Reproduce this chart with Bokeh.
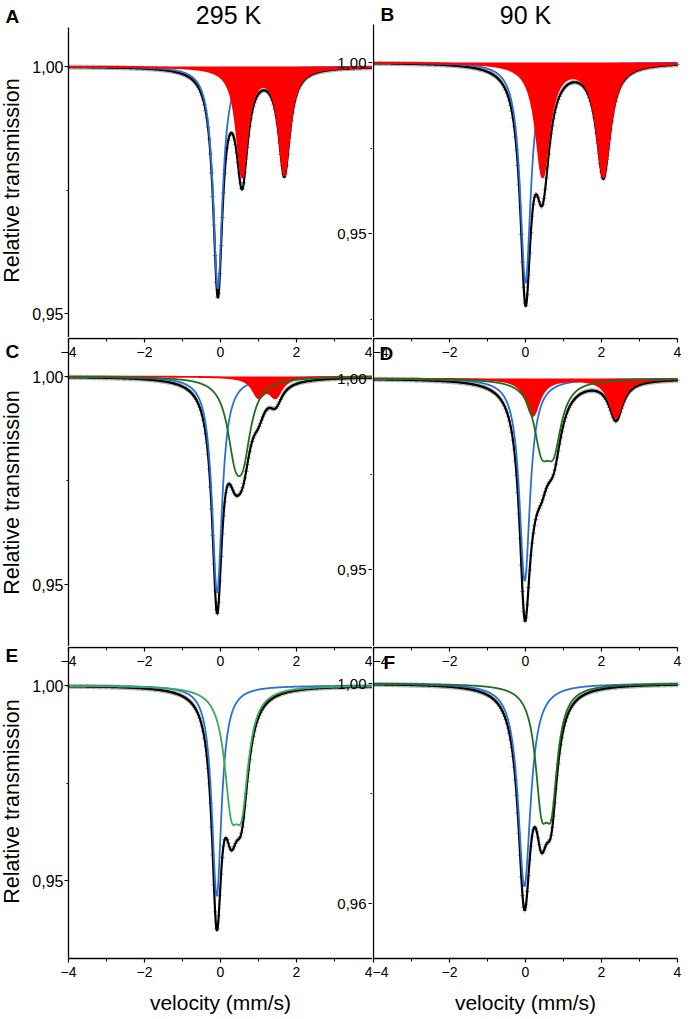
import math
import numpy as np
from bokeh.plotting import figure
from bokeh.models import Range1d, LinearAxis, FixedTicker, Label, CustomJSTickFormatter
from bokeh.layouts import column, row
from bokeh.embed import file_html
from bokeh.resources import INLINE

# ---------------- data ----------------
# every spectral component = Lorentzian lines: centre (mm/s), absorption depth, half width (mm/s)
temperatures = ["295 K", "90 K"]
panel_letters = ["A", "B", "C", "D", "E", "F"]
y_title = "Relative transmission"
x_title = "velocity (mm/s)"

A_blue_center = [-0.07]
A_blue_depth = [0.045]
A_blue_hwhm = [0.15]
A_red_center = [0.57, 1.68]
A_red_depth = [0.022, 0.0215]
A_red_hwhm = [0.18, 0.18]

B_blue_center = [0.0]
B_blue_depth = [0.0645]
B_blue_hwhm = [0.17]
B_red_center = [0.45, 2.05]
B_red_depth = [0.033, 0.033]
B_red_hwhm = [0.22, 0.22]

C_blue_center = [-0.09]
C_blue_depth = [0.052]
C_blue_hwhm = [0.16]
C_green_center = [0.38, 0.60]
C_green_depth = [0.0143, 0.0143]
C_green_hwhm = [0.25, 0.25]
C_red_center = [1.00, 1.45]
C_red_depth = [0.0045, 0.0045]
C_red_hwhm = [0.20, 0.20]

D_blue_center = [-0.02]
D_blue_depth = [0.053]
D_blue_hwhm = [0.17]
D_green_center = [0.42, 0.74]
D_green_depth = [0.0152, 0.0152]
D_green_hwhm = [0.25, 0.25]
D_red_center = [0.19, 2.38]
D_red_depth = [0.0097, 0.0102]
D_red_hwhm = [0.22, 0.22]

E_blue_center = [-0.10]
E_blue_depth = [0.054]
E_blue_hwhm = [0.155]
E_green_center = [0.28, 0.56]
E_green_depth = [0.025, 0.025]
E_green_hwhm = [0.22, 0.22]

F_blue_center = [-0.03]
F_blue_depth = [0.0369]
F_blue_hwhm = [0.20]
F_green_center = [0.42, 0.68]
F_green_depth = [0.0180, 0.0180]
F_green_hwhm = [0.20, 0.20]

x_ticks = [-4, -2, 0, 2, 4]
x_minor_ticks = [-3, -1, 1, 3]
A_y_ticks, A_y_minor = [0.95, 1.00], [0.975]
B_y_ticks, B_y_minor = [0.95, 1.00], [0.925, 0.975]
C_y_ticks, C_y_minor = [0.95, 1.00], [0.975]
D_y_ticks, D_y_minor = [0.95, 1.00], [0.975]
E_y_ticks, E_y_minor = [0.95, 1.00], [0.975]
F_y_ticks, F_y_minor = [0.96, 1.00], [0.98]

# ---------------- layout / styling ----------------
FONT = "Liberation Sans"
BLUE = "#2b6fd6"
RED = "#ff0000"
GREEN_DARK = "#1d701d"
GREEN_LIGHT = "#3aaa5c"
GRAY = "#808080"

PX_PER_V = 38.0
LEFT_COL = (0, 372)     # page x of the canvases
RIGHT_COL = (372, 690)
LEFT_V0 = 68            # page x of v = -4
RIGHT_V0 = 373
ROWS = [(0, 337), (337, 646), (646, 1017)]   # page y of the canvases
# page y of the 1.00 level and pixels per unit of transmission
PANEL_Y = {"A": (66, 4940.0), "B": (62, 3420.0), "C": (376, 4160.0),
           "D": (378, 3820.0), "E": (685, 3900.0), "F": (683, 5500.0)}
# page y of the top / bottom of the drawn y-axis line
AXIS_SPAN = {"A": (27, 337), "B": (24, 337), "C": (338, 646), "D": (338, 646),
             "E": (647, 958), "F": (647, 958)}
TEXT_DROP = 0.3   # rendered texts sit this many em below the requested baseline

v = np.linspace(-4.0, 4.0, 801)
v_channels = np.linspace(-4.0, 4.0, 256)

fmt_code = "return tick.toFixed(2).replace('.', ',');"


def x_at(col, px):
    v0 = LEFT_V0 if col == 0 else RIGHT_V0
    return -4.0 + (px - v0) / PX_PER_V


def y_at(panel, py):
    p1, scale = PANEL_Y[panel]
    return 1.0 + (p1 - py) / scale


def absorption(x, centers, depths, hwhms):
    s = np.zeros_like(x)
    for c, d, h in zip(centers, depths, hwhms):
        s = s + d / (1.0 + ((x - c) / h) ** 2)
    return s


def style_axis(ax, size):
    ax.major_label_text_font = FONT
    ax.major_label_text_font_size = size
    ax.major_label_text_color = "black"
    ax.major_tick_in = 0
    ax.minor_tick_in = 0
    ax.major_tick_out = 4
    ax.minor_tick_out = 2
    ax.axis_line_width = 1.3
    ax.major_tick_line_width = 1.2
    ax.minor_tick_line_width = 1.0
    ax.axis_line_color = "black"
    ax.major_tick_line_color = "black"
    ax.minor_tick_line_color = "black"


def make_fig(col, r, panel):
    cx0, cx1 = LEFT_COL if col == 0 else RIGHT_COL
    ry0, ry1 = ROWS[r]
    p = figure(width=cx1 - cx0, height=ry1 - ry0,
               x_range=Range1d(x_at(col, cx0), x_at(col, cx1)),
               y_range=Range1d(y_at(panel, ry1), y_at(panel, ry0)),
               x_axis_location=None, y_axis_location=None, toolbar_location=None,
               output_backend="svg", title=None,
               min_border_left=0, min_border_right=0, min_border_top=0, min_border_bottom=0)
    p.outline_line_color = None
    p.xgrid.visible = False
    p.ygrid.visible = False
    p.background_fill_color = "white"
    p.border_fill_color = "white"
    return p


def draw(p, blue, red=None, green=None, green_color=GREEN_DARK):
    comps = [blue] + [c for c in (red, green) if c is not None]
    total = 1.0 - sum(absorption(v, *c) for c in comps)
    total_ch = 1.0 - sum(absorption(v_channels, *c) for c in comps)
    p.scatter(v_channels, total_ch, marker="cross", size=5, line_color=GRAY,
              line_alpha=0.75, line_width=1)
    p.line(v, total, line_color="black", line_width=2.2)
    p.line(v, 1.0 - absorption(v, *blue), line_color=BLUE, line_width=1.8)
    if red is not None:
        rc = 1.0 - absorption(v, *red)
        p.varea(x=v, y1=rc, y2=np.ones_like(v), fill_color=RED)
        p.line(v, rc, line_color=RED, line_width=1.8)
    if green is not None:
        p.line(v, 1.0 - absorption(v, *green), line_color=green_color, line_width=1.8)


def y_axis(p, panel, ticks, minor, with_labels=True):
    top, bot = AXIS_SPAN[panel]
    if with_labels:
        ax = LinearAxis(fixed_location=-4, bounds=(y_at(panel, bot), y_at(panel, top)),
                        ticker=FixedTicker(ticks=ticks, minor_ticks=minor),
                        formatter=CustomJSTickFormatter(code=fmt_code))
        style_axis(ax, "16px")
        ax.major_label_standoff = 1
    else:
        ax = LinearAxis(fixed_location=-4, bounds=(y_at(panel, bot), y_at(panel, top)),
                        ticker=FixedTicker(ticks=[], minor_ticks=[]))
        style_axis(ax, "15px")
        ax.major_tick_out = 0
        ax.minor_tick_out = 0
    p.add_layout(ax, "left")


def neighbour_axis(p, r, panel, ticks, minor):
    # ticks and labels of the right-hand panel's y axis, on the shared border
    ry0, ry1 = ROWS[r]
    top, bot = AXIS_SPAN[panel]
    p.extra_y_ranges = {"nb": Range1d(y_at(panel, ry1), y_at(panel, ry0))}
    ax = LinearAxis(y_range_name="nb", fixed_location=4,
                    bounds=(y_at(panel, bot), y_at(panel, top)),
                    ticker=FixedTicker(ticks=ticks, minor_ticks=minor),
                    formatter=CustomJSTickFormatter(code=fmt_code))
    style_axis(ax, "15px")
    ax.axis_line_color = None
    ax.major_label_standoff = 2
    p.add_layout(ax, "left")


def x_axis(p, panel, py):
    ax = LinearAxis(fixed_location=y_at(panel, py), bounds=(-4, 4),
                    ticker=FixedTicker(ticks=x_ticks, minor_ticks=x_minor_ticks))
    style_axis(ax, "14px")
    ax.minor_tick_out = 3
    ax.major_label_standoff = 4
    p.add_layout(ax, "below")


def text(p, s, col, panel, px, py, size, bold=False, align="left", angle=0.0):
    # px, py: page position of the glyph baseline
    drop = TEXT_DROP * size
    if angle:
        px -= drop
    else:
        py -= drop
    x = x_at(col, px) if col is not None else px
    p.add_layout(Label(x=x, y=y_at(panel, py), text=s, angle=angle,
                       text_font=FONT, text_font_size=f"{size}px",
                       text_font_style="bold" if bold else "normal",
                       text_align=align, text_baseline="alphabetic",
                       text_color="black"))


pA = make_fig(0, 0, "A")
pB = make_fig(1, 0, "B")
pC = make_fig(0, 1, "C")
pD = make_fig(1, 1, "D")
pE = make_fig(0, 2, "E")
pF = make_fig(1, 2, "F")

draw(pA, (A_blue_center, A_blue_depth, A_blue_hwhm),
     red=(A_red_center, A_red_depth, A_red_hwhm))
draw(pB, (B_blue_center, B_blue_depth, B_blue_hwhm),
     red=(B_red_center, B_red_depth, B_red_hwhm))
draw(pC, (C_blue_center, C_blue_depth, C_blue_hwhm),
     red=(C_red_center, C_red_depth, C_red_hwhm),
     green=(C_green_center, C_green_depth, C_green_hwhm))
draw(pD, (D_blue_center, D_blue_depth, D_blue_hwhm),
     red=(D_red_center, D_red_depth, D_red_hwhm),
     green=(D_green_center, D_green_depth, D_green_hwhm))
draw(pE, (E_blue_center, E_blue_depth, E_blue_hwhm),
     green=(E_green_center, E_green_depth, E_green_hwhm), green_color=GREEN_LIGHT)
draw(pF, (F_blue_center, F_blue_depth, F_blue_hwhm),
     green=(F_green_center, F_green_depth, F_green_hwhm))

# y axes
y_axis(pA, "A", A_y_ticks, A_y_minor)
y_axis(pC, "C", C_y_ticks, C_y_minor)
y_axis(pE, "E", E_y_ticks, E_y_minor)
for p, name in ((pB, "B"), (pD, "D"), (pF, "F")):
    y_axis(p, name, [], [], with_labels=False)
neighbour_axis(pA, 0, "B", B_y_ticks, B_y_minor)
neighbour_axis(pC, 1, "D", D_y_ticks, D_y_minor)
neighbour_axis(pE, 2, "F", F_y_ticks, F_y_minor)

# x axes: the border under each row
x_axis(pC, "C", 338)
x_axis(pD, "D", 338)
x_axis(pE, "E", 647)
x_axis(pF, "F", 647)
x_axis(pE, "E", 958)
x_axis(pF, "F", 958)

# texts (page positions of baselines)
text(pA, panel_letters[0], 0, "A", 5, 22, 19, bold=True)
text(pA, temperatures[0], 0, "A", 228, 22, 25, align="center")
text(pB, panel_letters[1], 1, "B", 380, 20, 19, bold=True)
text(pB, temperatures[1], 1, "B", 525, 22, 25, align="center")
text(pC, panel_letters[2], 0, "C", 5, 357, 19, bold=True)
text(pD, panel_letters[3], 1, "D", 379, 359, 19, bold=True)
text(pE, panel_letters[4], 0, "E", 5, 661, 19, bold=True)
text(pF, panel_letters[5], 1, "F", 383, 668, 19, bold=True)

for p, name, cy in ((pA, "A", 180), (pC, "C", 492), (pE, "E", 801)):
    text(p, y_title, 0, name, 18, cy, 21.5, align="center", angle=math.pi / 2)
text(pE, x_title, 0, "E", 220, 1008, 21, align="center")
text(pF, x_title, 1, "F", 525, 1008, 21, align="center")

layout = column(row(pA, pB), row(pC, pD), row(pE, pF))

with open("out.html", "w") as f:
    f.write(file_html(layout, INLINE))
